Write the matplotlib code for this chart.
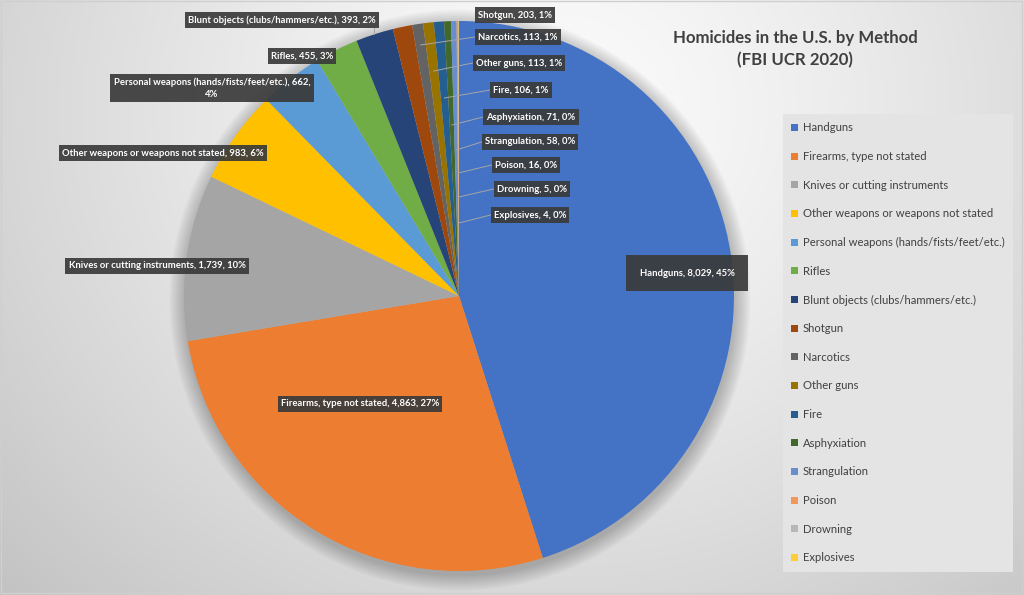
import numpy as np
import matplotlib.pyplot as plt
from matplotlib.patches import Circle, Rectangle

# data, clockwise from 12 o'clock
methods = ['Handguns', 'Firearms, type not stated', 'Knives or cutting instruments',
           'Other weapons or weapons not stated', 'Personal weapons (hands/fists/feet/etc.)',
           'Rifles', 'Blunt objects (clubs/hammers/etc.)', 'Shotgun', 'Narcotics',
           'Other guns', 'Fire', 'Asphyxiation', 'Strangulation', 'Poison',
           'Drowning', 'Explosives']
counts = [8029, 4863, 1739, 983, 662, 455, 393, 203, 113, 113, 106, 71, 58, 16, 5, 4]
colors = ['#4472C4', '#ED7D31', '#A5A5A5', '#FFC000', '#5B9BD5', '#70AD47', '#264478',
          '#9E480E', '#636363', '#997300', '#255E91', '#43682B', '#698ED0', '#F1975A',
          '#B7B7B7', '#FFCD33']
title = 'Homicides in the U.S. by Method\n(FBI UCR 2020)'

# label box centres (pixels, y down)
label_pos = [(687, 273), (360, 404), (157, 266), (163, 153), (212, 88), (302, 56),
             (282, 20), (515, 15), (518, 37), (519, 63), (521, 90), (531, 117),
             (530, 142), (526, 165), (532, 189), (530, 215)]
inner_leaders = ['Narcotics', 'Other guns', 'Fire', 'Asphyxiation', 'Strangulation',
                 'Poison', 'Drowning', 'Explosives']
edge_leaders = ['Blunt objects (clubs/hammers/etc.)']

W, H = 1024, 595
cx, cy, R = 459, 296, 275
FONT = 'Lato'

fig = plt.figure(figsize=(W / 100, H / 100), dpi=100)
ax = fig.add_axes([0, 0, 1, 1])

# background gradient
yy, xx = np.mgrid[0:H, 0:W]
d = np.hypot((xx - 560) / 1.1, yy - 110) / 650
shade = np.clip(0.985 - 0.2 * d ** 1.3, 0.76, 1)
ax.imshow(np.dstack([shade] * 3), extent=(0, W, H, 0), zorder=0)
ax.add_patch(Rectangle((1, 1), W - 3, H - 3, fill=False, ec='#CFCFCF', lw=1, zorder=1))

# soft shadow under the pie
for i in range(10):
    ax.add_patch(Circle((cx + 1, cy + 4), R + 1 + i * 1.6, fc='black', ec='none',
                        alpha=0.022, zorder=1))

total = sum(counts)
wedges, _ = ax.pie(counts, colors=colors, startangle=-90, counterclock=True,
                   center=(cx, cy), radius=R, wedgeprops=dict(linewidth=0, zorder=2))
ax.set_xlim(0, W)
ax.set_ylim(H, 0)
ax.axis('off')

texts = []
for name, v, (lx, ly) in zip(methods, counts, label_pos):
    s = f'{name}, {v:,}, {round(100 * v / total)}%'
    if len(s) > 46:
        s = s[:s.rfind(', ') + 1] + '\n' + s[s.rfind(', ') + 2:]
    pad = 1.4 if name == 'Handguns' else 0.35
    t = ax.text(lx, ly, s, ha='center', va='center', fontsize=6.8, fontweight='bold',
                color='white', family=FONT, zorder=5, linespacing=1.5,
                bbox=dict(boxstyle=f'square,pad={pad}', fc='#3A3A3A', ec='none', alpha=0.92))
    texts.append(t)

fig.canvas.draw()
inv = ax.transData.inverted()
for name, w, t in zip(methods, wedges, texts):
    if name not in inner_leaders and name not in edge_leaders:
        continue
    bb = t.get_bbox_patch().get_window_extent()
    (x0, y0), (x1, y1) = inv.transform([[bb.x0, bb.y0], [bb.x1, bb.y1]])
    mid = np.deg2rad((w.theta1 + w.theta2) / 2)
    if name in inner_leaders:
        ly = (y0 + y1) / 2
        ey = ly + 8
        r = (ey - cy) / np.sin(mid)
        ex = cx + r * np.cos(mid)
        ax.plot([x0, ex], [ly, ey], color='#A6A6A6', lw=0.7, zorder=4)
    else:
        ex = cx + R * np.cos(mid)
        ey = cy + R * np.sin(mid)
        ax.plot([ex, ex], [max(y0, y1), ey], color='#A6A6A6', lw=0.7, zorder=4)

ax.text(795, 49, title, ha='center', va='center', fontsize=12.1, fontweight='bold',
        color='#404040', family=FONT, linespacing=1.4, zorder=5)

leg = ax.legend(wedges, methods, loc='upper left', bbox_to_anchor=(783 / W, 1 - 114 / H),
                bbox_transform=fig.transFigure, frameon=True, fancybox=False,
                facecolor='#E4E4E4', edgecolor='none', framealpha=1,
                prop=dict(family=FONT, size=8.1), labelcolor='#404040',
                handlelength=0.55, handleheight=0.55, handletextpad=0.45,
                labelspacing=1.57, borderpad=0.75, borderaxespad=0)
leg.get_frame().set_linewidth(0)

fig.savefig('out.png', dpi=100)
